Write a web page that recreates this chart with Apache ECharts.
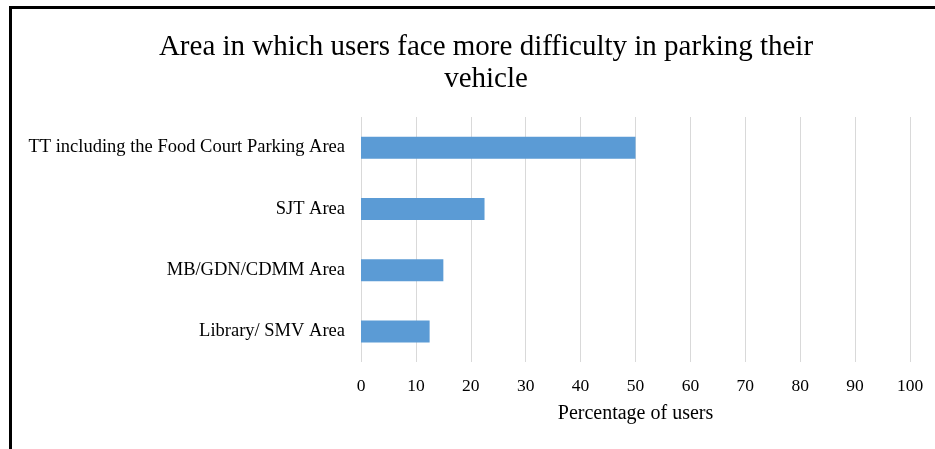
<!DOCTYPE html>
<html>
<head>
    <meta charset="utf-8">
    <title>Parking difficulty</title>
    <script src="https://cdn.jsdelivr.net/npm/echarts@6/dist/echarts.min.js"></script>
    <style>
        body { margin: 0; background: #fff; }
        #wrap { position: absolute; left: 0; top: 0; width: 935px; height: 449px; }
        #frame { position: absolute; left: 9px; top: 6px; width: 926px; height: 441px;
                 border-left: 3px solid #000; border-top: 3px solid #000; border-bottom: 1px solid #e4e4e4; }
        #chart { position: absolute; left: 0; top: 0; width: 935px; height: 449px; }
    </style>
</head>
<body>
<div id="wrap">
    <div id="frame"></div>
    <div id="chart"></div>
</div>
<script>
    var areas = ['TT including the Food Court Parking Area', 'SJT Area', 'MB/GDN/CDMM Area', 'Library/ SMV Area'];
    var percent = [50, 22.5, 15, 12.5];
    var xTicks = [0, 10, 20, 30, 40, 50, 60, 70, 80, 90, 100];

    var chart = echarts.init(document.getElementById('chart'));
    var serif = '"Liberation Serif", "DejaVu Serif", serif';
    var option = {
        animation: false,
        title: {
            text: 'Area in which users face more difficulty in parking their\nvehicle',
            left: 481,
            textAlign: 'center',
            top: 26,
            textStyle: { fontFamily: serif, fontSize: 29, fontWeight: 'normal', color: '#000', lineHeight: 32 }
        },
        grid: { left: 361, right: 25, top: 117, bottom: 87 },
        xAxis: {
            type: 'value',
            min: xTicks[0],
            max: xTicks[xTicks.length - 1],
            interval: 10,
            name: 'Percentage of users',
            nameLocation: 'middle',
            nameGap: 42,
            nameTextStyle: { fontFamily: serif, fontSize: 20, color: '#000' },
            axisLine: { show: false },
            axisTick: { show: false },
            axisLabel: { fontFamily: serif, fontSize: 17.5, color: '#000', margin: 15 },
            splitLine: { lineStyle: { color: '#d9d9d9', width: 1 } }
        },
        yAxis: {
            type: 'category',
            data: areas,
            inverse: true,
            axisLine: { show: false },
            axisTick: { show: false },
            axisLabel: { fontFamily: serif, fontSize: 18.5, color: '#000', margin: 16 }
        },
        series: [{
            type: 'bar',
            data: percent,
            barWidth: 22,
            itemStyle: { color: '#5b9bd5' }
        }]
    };
    chart.setOption(option);
</script>
</body>
</html>
